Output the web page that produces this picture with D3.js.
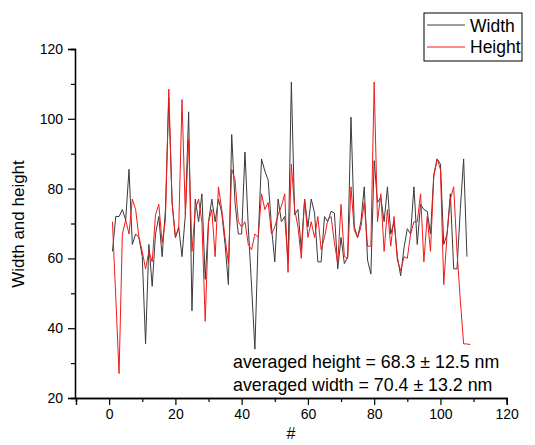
<!DOCTYPE html>
<html>
<head>
<meta charset="utf-8">
<script src="https://cdn.jsdelivr.net/npm/d3@7"></script>
<style>
	body { margin: 0; background: #fff; }
	svg { display: block; font-family: "Liberation Sans", Arial, sans-serif; }
</style>
</head>
<body>
<svg id="chart" width="535" height="445"></svg>
<script>
// values, index starts at 1
var width_values = [62, 72, 72, 74, 71, 85.5, 64, 67, 66, 60.5,
	35.5, 64, 52, 67, 72, 60.5, 74, 106, 76, 66,
	69, 60.5, 72.5, 102, 45, 77, 70.5, 78.5, 54, 70.5,
	77, 70.5, 77, 73, 64, 52.5, 95.5, 76, 67, 67,
	90.5, 69, 52, 34, 66, 88.5, 85, 82.5, 69, 59,
	77, 70.5, 72, 59, 110.5, 72.5, 74, 62.5, 77, 69,
	77, 73, 59, 59, 72, 70.5, 73.5, 73, 57, 66,
	58.5, 60.5, 100.5, 69, 66, 70.5, 80.5, 59.5, 55.5, 88,
	76, 77.5, 70.5, 80.5, 67, 70.5, 60.5, 55, 63, 68.5,
	67, 80.5, 64, 75.5, 74, 73.5, 67, 84, 88.5, 87,
	64, 67, 78.5, 57, 57, 74, 88.5, 60.5];

var height_values = [70.5, 49, 27, 67, 71, 67, 77, 74, 66, 62,
	57, 62, 59, 72.5, 75.5, 64.5, 71, 108.5, 76, 66,
	68.5, 105.5, 72.5, 94, 62, 74, 77, 70.5, 42, 70.5,
	74, 60.5, 80.5, 74, 66, 58.5, 85.5, 82.5, 70.5, 69,
	70.5, 64, 62.5, 67, 66, 78.5, 74, 76, 67, 69,
	72.5, 75, 78.5, 56, 87, 74, 69, 60, 77, 66,
	70.5, 66, 72, 62.5, 66, 71, 72, 64.5, 58.5, 75.5,
	60.5, 60, 80.5, 68, 66, 69, 76, 63.5, 63.5, 110.5,
	70.5, 78.5, 62, 74, 63.5, 72, 59.5, 56.5, 60.5, 60,
	67, 70.5, 70.5, 78.5, 59, 72, 62, 83.5, 88.5, 85.5,
	52.5, 67, 77, 80.5, 62, 48, 35.5, 35.5, 35.3];

var x_ticks = [0, 20, 40, 60, 80, 100, 120];
var x_minor = [-10, 10, 30, 50, 70, 90, 110];
var y_ticks = [20, 40, 60, 80, 100, 120];
var y_minor = [30, 50, 70, 90, 110];

var series_names = ["Width", "Height"];
var series_colors = ["#3a3a3a", "#f01a1a"];
var notes = ["averaged height = 68.3 \u00b1 12.5 nm", "averaged width = 70.4 \u00b1 13.2 nm"];

var svg = d3.select("#chart");

var x = d3.scaleLinear().domain([-10, 120]).range([76, 506.7]);
var y = d3.scaleLinear().domain([20, 120]).range([398, 49]);

function to_points(values) {
	return values.map(function(v, i) {
		return {x: i + 1, y: v};
	});
}

var line = d3.line()
	.x(function(d) { return x(d.x); })
	.y(function(d) { return y(d.y); });

[width_values, height_values].forEach(function(values, k) {
	svg.append("path")
		.datum(to_points(values))
		.attr("fill", "none")
		.attr("stroke", series_colors[k])
		.attr("stroke-width", 1)
		.attr("stroke-linejoin", "round")
		.attr("d", line);
});

// axes
svg.append("g").attr("transform", "translate(0,398)")
	.call(d3.axisBottom(x).tickValues(x_ticks).tickSize(7).tickPadding(4).tickFormat(d3.format("d")));
svg.append("g").attr("transform", "translate(0,398)")
	.call(d3.axisBottom(x).tickValues(x_minor).tickSize(4).tickFormat(""));

svg.append("g").attr("transform", "translate(75,0)")
	.call(d3.axisLeft(y).tickValues(y_ticks).tickSize(7).tickPadding(5).tickFormat(d3.format("d")));
svg.append("g").attr("transform", "translate(75,0)")
	.call(d3.axisLeft(y).tickValues(y_minor).tickSize(4).tickFormat(""));

svg.selectAll(".domain").attr("stroke", "#000").attr("stroke-width", 1.3);
svg.selectAll(".tick line").attr("stroke", "#000").attr("stroke-width", 1.2);
svg.selectAll(".tick text").attr("font-size", 14).attr("fill", "#000")
	.attr("font-family", "Liberation Sans, Arial, sans-serif");

svg.append("text")
	.attr("x", 291).attr("y", 439)
	.attr("text-anchor", "middle")
	.attr("font-size", 16)
	.text("#");

svg.append("text")
	.attr("transform", "translate(24,224) rotate(-90)")
	.attr("text-anchor", "middle")
	.attr("font-size", 17)
	.text("Width and height");

notes.forEach(function(t, i) {
	svg.append("text")
		.attr("x", 233).attr("y", 368 + i * 23)
		.attr("font-size", 17.8)
		.text(t);
});

// legend
var legend = svg.append("g").attr("transform", "translate(424,13)");
legend.append("rect")
	.attr("width", 98).attr("height", 48)
	.attr("fill", "#fff").attr("stroke", "#000").attr("stroke-width", 1);
series_names.forEach(function(name, i) {
	legend.append("line")
		.attr("x1", 3).attr("x2", 41)
		.attr("y1", 12 + i * 22).attr("y2", 12 + i * 22)
		.attr("stroke", series_colors[i]).attr("stroke-width", 1);
	legend.append("text")
		.attr("x", 46).attr("y", 18.5 + i * 21.5)
		.attr("font-size", 17.5)
		.text(name);
});
</script>
</body>
</html>
